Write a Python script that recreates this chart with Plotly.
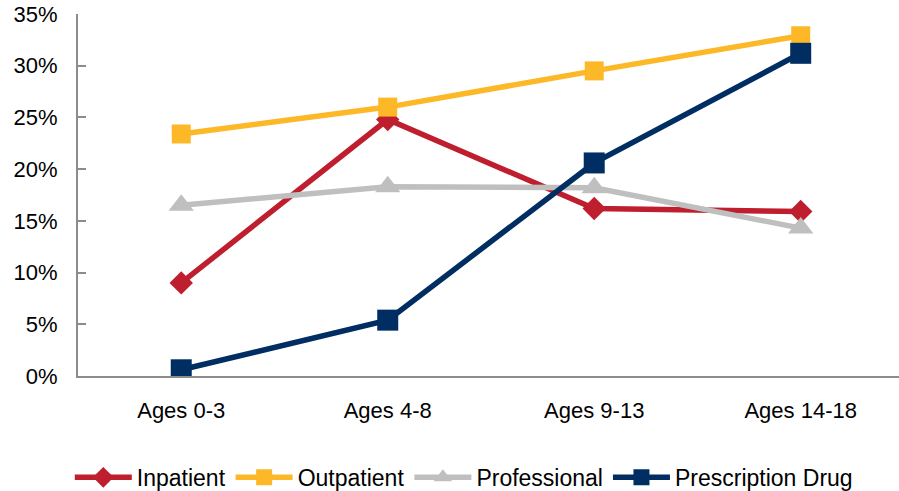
import plotly.graph_objects as go

# Age groups along the x axis
age_groups = ["Ages 0-3", "Ages 4-8", "Ages 9-13", "Ages 14-18"]

# Share of spending (%) by service category
inpatient = [9.0, 24.8, 16.2, 15.9]
outpatient = [23.4, 26.0, 29.5, 32.9]
professional = [16.5, 18.3, 18.2, 14.3]
prescription_drug = [0.6, 5.4, 20.6, 31.2]

y_ticks = [0, 5, 10, 15, 20, 25, 30, 35]
y_tick_labels = [f"{v}%" for v in y_ticks]

series = [
    ("Inpatient", inpatient, "#BE1E2D", "diamond", 18),
    ("Outpatient", outpatient, "#FDB827", "square", 19),
    ("Professional", professional, "#BFBFBF", "triangle-up", 22),
    ("Prescription Drug", prescription_drug, "#002D62", "square", 21),
]

fig = go.Figure()
for name, values, color, symbol, size in series:
    fig.add_trace(go.Scatter(
        x=age_groups,
        y=values,
        name=name,
        mode="lines+markers",
        line=dict(color=color, width=5.5),
        marker=dict(symbol=symbol, size=size, color=color),
    ))

tick_font = dict(family="Liberation Sans, Arial, sans-serif", size=22, color="#000000")

fig.update_layout(
    width=899,
    height=491,
    margin=dict(l=78, r=0, t=14, b=115, autoexpand=False),
    paper_bgcolor="white",
    plot_bgcolor="white",
    font=dict(family="Liberation Sans, Arial, sans-serif", size=18, color="#000000"),
    showlegend=True,
    legend=dict(
        orientation="h",
        x=-0.01,
        xanchor="left",
        y=-0.28,
        yanchor="middle",
        font=dict(family="Liberation Sans, Arial, sans-serif", size=23),
        itemwidth=57,
        tracegroupgap=0,
    ),
    xaxis=dict(
        range=[-0.5, 3.476],
        showgrid=False,
        showline=True,
        linecolor="#8C8C8C",
        linewidth=2,
        ticks="",
        ticklabelstandoff=14,
        tickfont=tick_font,
        zeroline=False,
    ),
    yaxis=dict(
        range=[0, 35],
        tickvals=y_ticks,
        ticktext=y_tick_labels,
        showgrid=False,
        showline=True,
        linecolor="#8C8C8C",
        linewidth=2,
        ticks="inside",
        ticklen=8,
        tickcolor="#8C8C8C",
        tickwidth=2,
        ticklabelstandoff=14,
        tickfont=tick_font,
        zeroline=False,
    ),
)

fig.write_html("out.html")
